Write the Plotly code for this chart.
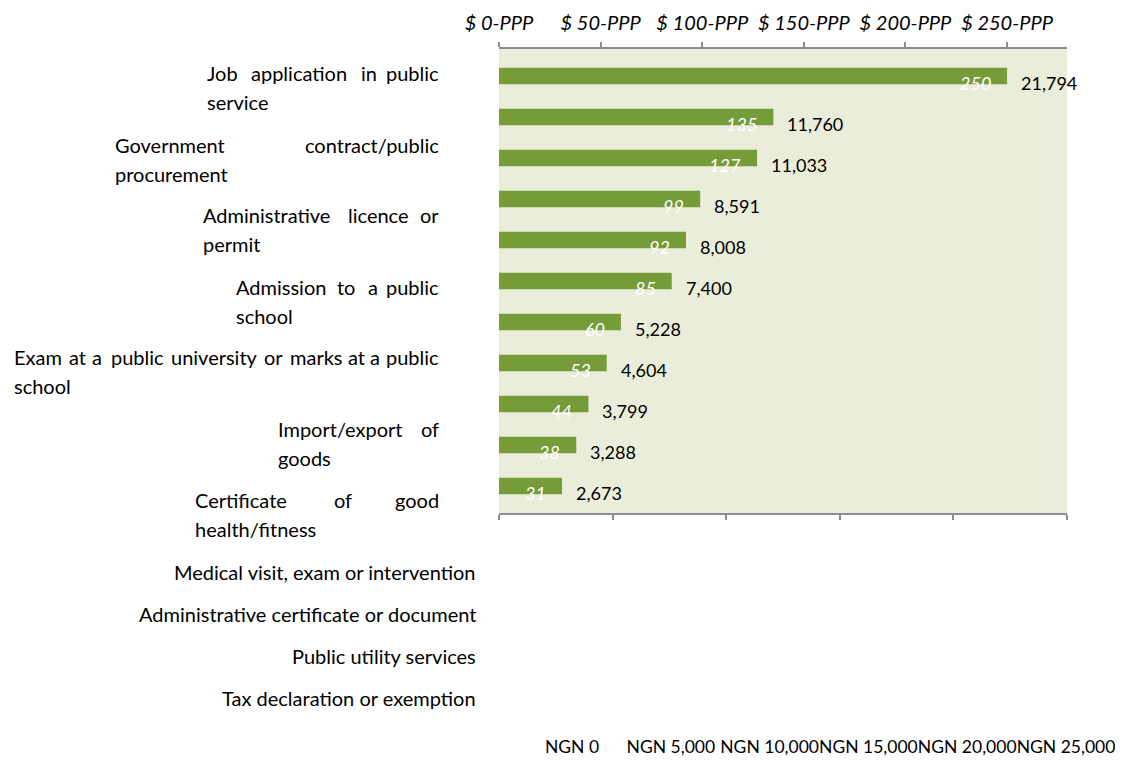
"""Bribe size by purpose of the payment (PPP dollars vs NGN)."""
import plotly.graph_objects as go

categories = [
    "Job application in public service",
    "Government contract/public procurement",
    "Administrative licence or permit",
    "Admission to a public school",
    "Exam at a public university or marks at a public school",
    "Import/export of goods",
    "Certificate of good health/fitness",
    "Medical visit, exam or intervention",
    "Administrative certificate or document",
    "Public utility services",
    "Tax declaration or exemption",
]
bribe_ppp = [250, 135, 127, 99, 92, 85, 60, 53, 44, 38, 31]
bribe_ngn = [21794, 11760, 11033, 8591, 8008, 7400, 5228, 4604, 3799, 3288, 2673]

ppp_ticks = [0, 50, 100, 150, 200, 250]
ppp_ticktext = ["$ 0-PPP", "$ 50-PPP", "$ 100-PPP", "$ 150-PPP", "$ 200-PPP", "$ 250-PPP"]
ngn_ticks = [0, 5000, 10000, 15000, 20000, 25000]
ngn_ticktext = ["NGN 0", "NGN 5,000", "NGN 10,000", "NGN 15,000", "NGN 20,000", "NGN 25,000"]

FONT = "Lato"
OFF = 8  # page body margin
W, H = 1115, 752
L, R, T, B = 491, 56, 41, 247
PW, PH = W - L - R, H - T - B


def px(x):
    # screen x (reference pixels) -> paper
    return (x - OFF - L) / PW


def py(y):
    return (H - B - (y - OFF)) / PH


fig = go.Figure()
fig.add_trace(go.Bar(
    x=bribe_ppp, y=categories, orientation='h', width=0.4,
    marker=dict(color='#769C3A', line=dict(width=0)),
    hoverinfo='skip', showlegend=False,
))
# NGN axes need a trace to be drawn
for ax in ['x2', 'x3']:
    fig.add_trace(go.Scatter(x=bribe_ngn, y=categories, xaxis=ax, mode='markers',
                             marker=dict(opacity=0), hoverinfo='skip', showlegend=False))

annotations = []
# value labels: PPP inside the bar end, NGN just past it
for cat, ppp, ngn in zip(categories, bribe_ppp, bribe_ngn):
    annotations.append(dict(
        x=ppp, y=cat, xref='x', yref='y', text=str(ppp), showarrow=False,
        xanchor='right', yanchor='middle', xshift=-14, yshift=-7,
        font=dict(family=FONT, size=18, color='white', style='italic'),
    ))
    annotations.append(dict(
        x=ppp, y=cat, xref='x', yref='y', text=f"{ngn:,}", showarrow=False,
        xanchor='left', yanchor='middle', xshift=12, yshift=-7,
        font=dict(family=FONT, size=18, color='black'),
    ))

# category labels: first seven wrap with a justified first line, the rest spill below
# (left x of each word of line 1 except the last, y of line 1)
wrapped = [
    ([205, 249, 359], 73),
    ([113], 145),
    ([201, 346], 215),
    ([234, 335, 366], 287),
    ([12, 67, 90, 109, 169, 262, 288, 346, 368], 357),
    ([276], 429),
    ([193, 332], 500),
]
RIGHT_EDGE = 441
label_font = dict(family=FONT, size=20, color='black')


def label(text, x, y, anchor):
    annotations.append(dict(x=px(x), y=py(y), xref='paper', yref='paper', text=text,
                            showarrow=False, xanchor=anchor, yanchor='middle', font=label_font))


for cat, (lefts, y1) in zip(categories, wrapped):
    words = cat.split(' ')
    n1 = len(lefts) + 1
    for w, xw in zip(words[:n1 - 1], lefts):
        label(w, xw, y1, 'left')
    label(words[n1 - 1], RIGHT_EDGE, y1, 'right')
    label(' '.join(words[n1:]), lefts[0], y1 + 29, 'left')

for cat, y in zip(categories[7:], [572, 614, 656, 698]):
    label(cat, 478, y, 'right')

axis_style = dict(showline=True, linecolor='#8C8C8C', linewidth=2, ticks='outside',
                  ticklen=5, tickwidth=2, tickcolor='#8C8C8C', showgrid=False,
                  zeroline=False, automargin=False)

fig.update_layout(
    width=W, height=H,
    margin=dict(l=L, r=R, t=T, b=B, pad=0, autoexpand=False),
    paper_bgcolor='white',
    plot_bgcolor='#EAEDD9',
    font=dict(family=FONT, size=18, color='black'),
    xaxis=dict(side='top', range=[0, 279.5], tickvals=ppp_ticks, ticktext=ppp_ticktext,
               tickfont=dict(family=FONT, size=20, style='italic'), ticklabelstandoff=4,
               tickangle=0, fixedrange=True, **axis_style),
    # bottom line and tick marks
    xaxis2=dict(overlaying='x', side='bottom', anchor='y', range=[0, 25000],
                tickvals=ngn_ticks, showticklabels=False, **axis_style),
    # bottom labels sit well below the plot, packed tighter than the ticks
    xaxis3=dict(overlaying='x', side='bottom', anchor='y', range=[-3694, 25050],
                tickvals=ngn_ticks, ticktext=ngn_ticktext, ticks='', showline=False,
                showgrid=False, zeroline=False, ticklabelstandoff=221, tickangle=0,
                automargin=False, tickfont=dict(family=FONT, size=17.5)),
    yaxis=dict(type='category', categoryorder='array', categoryarray=categories,
               autorange='reversed', showticklabels=False, showgrid=False,
               zeroline=False, showline=False, ticks='', automargin=False),
    annotations=annotations,
)

fig.write_html("out.html")
